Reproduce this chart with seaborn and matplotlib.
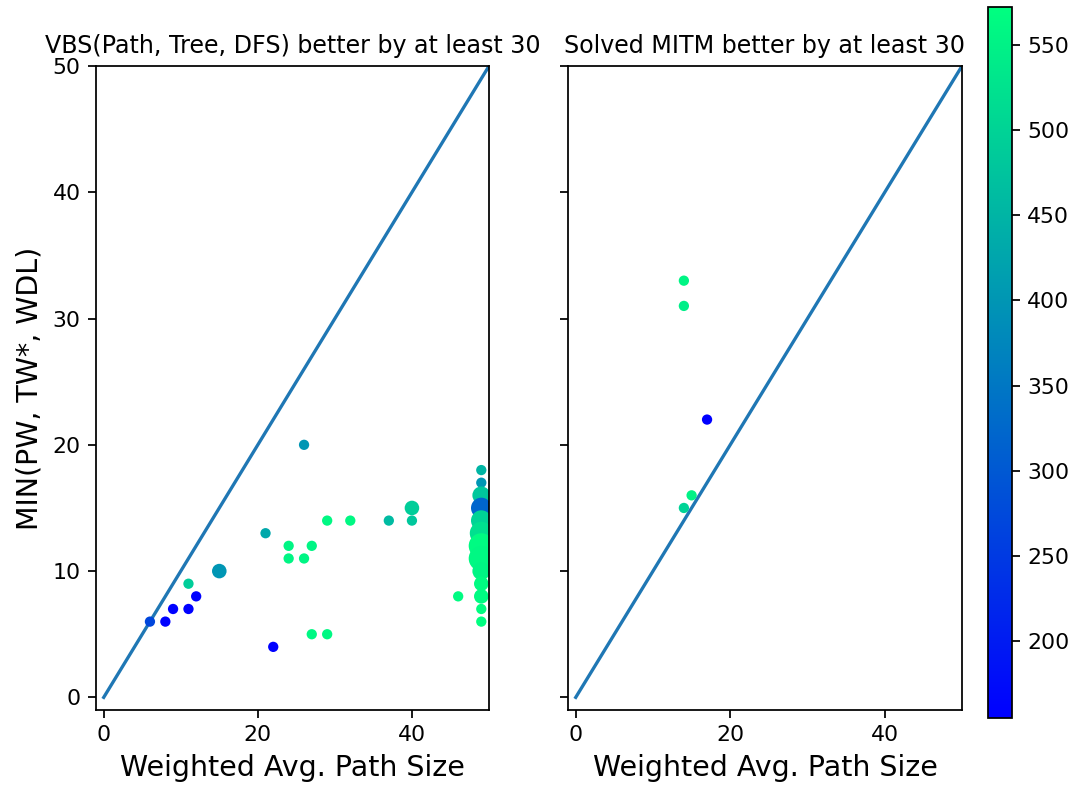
import numpy as np
import pandas as pd
import matplotlib
matplotlib.use("Agg")
import matplotlib.pyplot as plt
import seaborn as sns
from matplotlib.colors import Normalize
from matplotlib.cm import ScalarMappable

# ---- data ----
left_x = [26, 40, 37, 40, 29, 32, 21, 24, 27, 24, 26, 15, 11, 12, 9, 11, 6, 8, 27, 29, 22, 46,
          49, 49, 49, 49, 49, 49, 49, 49, 49, 49, 49, 49, 49]
left_y = [20, 15, 14, 14, 14, 14, 13, 12, 12, 11, 11, 10, 9, 8, 7, 7, 6, 6, 5, 5, 4, 8,
          18, 17, 16, 15, 14, 13, 12, 11, 10, 9, 8, 7, 6]
left_c = [400, 490, 460, 480, 560, 560, 430, 555, 555, 555, 555, 400, 490, 158, 158, 158, 270, 158, 560, 560, 158, 565,
          450, 400, 480, 320, 500, 520, 565, 560, 555, 565, 565, 570, 572]
left_n = [1, 2, 1, 1, 1, 1, 1, 1, 1, 1, 1, 2, 1, 1, 1, 1, 1, 1, 1, 1, 1, 1,
          1, 1, 3, 4, 4, 5, 6, 6, 3, 2, 2, 1, 1]

right_x = [14, 14, 17, 15, 14]
right_y = [33, 31, 22, 16, 15]
right_c = [555, 545, 155, 550, 500]
right_n = [1, 1, 1, 1, 1]

diag_x = [0, 50]
diag_y = [0, 50]

titles = ["VBS(Path, Tree, DFS) better by at least 30", "Solved MITM better by at least 30"]
xlabel = "Weighted Avg. Path Size"
ylabel = "MIN(PW, TW*, WDL)"
cbar_ticks = [200, 250, 300, 350, 400, 450, 500, 550]
vmin, vmax = 155, 572

# ---- figure ----
W, H, DPI = 1081, 790, 158
fig = plt.figure(figsize=(W / DPI, H / DPI), dpi=DPI)

def px_axes(l, t, r, b):
    return fig.add_axes([l / W, 1 - b / H, (r - l) / W, (b - t) / H])

ax1 = px_axes(96, 66, 489, 710)
ax2 = px_axes(568, 66, 962, 710)
cax = px_axes(988, 7, 1012, 718)

norm = Normalize(vmin=vmin, vmax=vmax)

panels = [(ax1, left_x, left_y, left_c, left_n), (ax2, right_x, right_y, right_c, right_n)]
for i, (ax, xs, ys, cs, ns) in enumerate(panels):
    df = pd.DataFrame({"x": xs, "y": ys, "c": cs, "n": ns})
    ax.plot(diag_x, diag_y, color="#1f77b4", lw=1.5, zorder=1)
    sns.scatterplot(data=df, x="x", y="y", hue="c", palette="winter", hue_norm=norm,
                    size="n", sizes=(22, 132), size_norm=(1, 6), linewidth=0,
                    legend=False, ax=ax, zorder=2)
    ax.set_xlim(-1, 50)
    ax.set_ylim(-1, 50)
    ax.set_xticks([0, 20, 40])
    ax.set_yticks([0, 10, 20, 30, 40, 50])
    ax.set_title(titles[i], fontsize=10.8, pad=6)
    ax.set_xlabel(xlabel, fontsize=13)
    ax.tick_params(labelsize=10)

ax1.set_ylabel(ylabel, fontsize=13)
ax2.set_ylabel("")
ax2.set_yticklabels([])

sm = ScalarMappable(norm=norm, cmap="winter")
sm.set_array([])
cb = fig.colorbar(sm, cax=cax)
cb.set_ticks(cbar_ticks)
cb.ax.tick_params(labelsize=10)

fig.savefig("out.png", dpi=DPI)
